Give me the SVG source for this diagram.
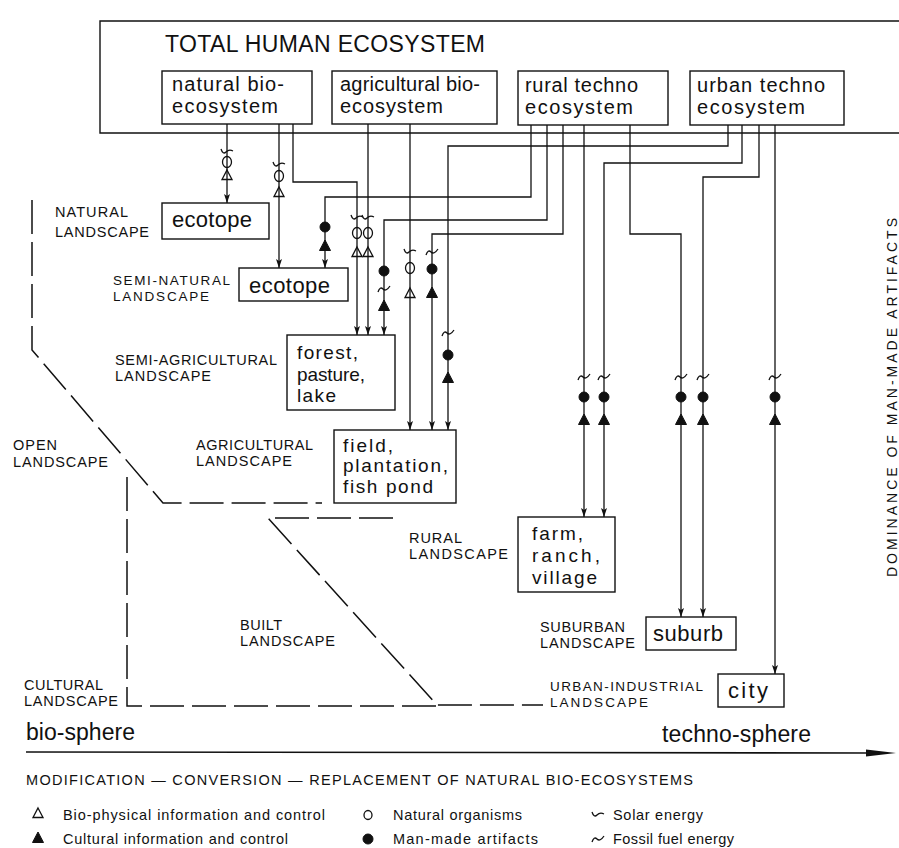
<svg xmlns="http://www.w3.org/2000/svg" width="899" height="848" viewBox="0 0 899 848">
<style>
.box{fill:none;stroke:#111;stroke-width:1.4}
.t{font-family:"Liberation Sans",Arial,sans-serif;fill:#111}
.ttl{font-size:23px}
.bx{font-size:20px}
.lb{font-size:22px}
.ml{font-size:19px}
.cap{font-size:14.5px}
.cs{font-size:13.5px}
.lg{font-size:14.5px}
.conn{fill:none;stroke:#111;stroke-width:1.3}
.dash{fill:none;stroke:#111;stroke-width:1.5;stroke-dasharray:34 8}
.so{fill:none;stroke:#111;stroke-width:1.3}
.sf{fill:#111;stroke:#111;stroke-width:1}
</style>
<defs>
<marker id="ah" markerUnits="userSpaceOnUse" markerWidth="10" markerHeight="8" refX="9" refY="3" orient="auto">
<path d="M0,0 L9,3 L0,6 L2,3 z" fill="#111"/>
</marker>
<ellipse id="oc" class="so" cx="0" cy="0" rx="4.5" ry="5.5"/>
<path id="ot" class="so" d="M0,-5 L5,4.5 L-5,4.5 z"/>
<circle id="fc" class="sf" cx="0" cy="0" r="5"/>
<path id="ft" class="sf" d="M0,-6 L5.5,4.5 L-5.5,4.5 z"/>
<path id="sw" class="so" d="M-6,-3 Q-4,3 -1,0 Q2,-3 6,-1"/>
<path id="fw" class="so" d="M-6,3 Q-4,-3 -1,0 Q2,3 6,-3"/>
</defs>

<g id="total-human-ecosystem">
<path class="box" d="M900,21 H100 V133 H900"/>
<text class="t ttl" x="165" y="52" textLength="320">TOTAL HUMAN ECOSYSTEM</text>
</g>

<g id="natural-bio-ecosystem">
<rect class="box" x="162" y="71" width="150" height="53"/>
<text class="t bx" x="172" y="91" textLength="112">natural bio-</text>
<text class="t bx" x="172" y="113" textLength="106">ecosystem</text>
</g>
<g id="agricultural-bio-ecosystem">
<rect class="box" x="332" y="71" width="165" height="53"/>
<text class="t bx" x="340" y="91" textLength="140">agricultural bio-</text>
<text class="t bx" x="340" y="113" textLength="103">ecosystem</text>
</g>
<g id="rural-techno-ecosystem">
<rect class="box" x="518" y="71" width="150" height="54"/>
<text class="t bx" x="525" y="92" textLength="113">rural techno</text>
<text class="t bx" x="525" y="114" textLength="108">ecosystem</text>
</g>
<g id="urban-techno-ecosystem">
<rect class="box" x="690" y="71" width="154" height="54"/>
<text class="t bx" x="697" y="92" textLength="128">urban techno</text>
<text class="t bx" x="697" y="114" textLength="108">ecosystem</text>
</g>

<g id="ecotope-natural">
<rect class="box" x="162" y="203" width="107" height="36"/>
<text class="t lb" x="172" y="227" textLength="80">ecotope</text>
</g>
<g id="ecotope-semi-natural">
<rect class="box" x="239" y="268" width="109" height="33"/>
<text class="t lb" x="249" y="293" textLength="81">ecotope</text>
</g>
<g id="forest-pasture-lake">
<rect class="box" x="287" y="335" width="108" height="75"/>
<text class="t ml" x="297" y="359" textLength="61">forest,</text>
<text class="t ml" x="297" y="381" textLength="68">pasture,</text>
<text class="t ml" x="297" y="402" textLength="39">lake</text>
</g>
<g id="field-plantation-fishpond">
<rect class="box" x="334" y="430" width="122" height="73"/>
<text class="t ml" x="343" y="452" textLength="50">field,</text>
<text class="t ml" x="343" y="472" textLength="105">plantation,</text>
<text class="t ml" x="343" y="493" textLength="90">fish pond</text>
</g>
<g id="farm-ranch-village">
<rect class="box" x="518" y="517" width="97" height="75"/>
<text class="t ml" x="532" y="540" textLength="51">farm,</text>
<text class="t ml" x="532" y="562" textLength="68">ranch,</text>
<text class="t ml" x="532" y="584" textLength="65">village</text>
</g>
<g id="suburb">
<rect class="box" x="646" y="617" width="90" height="33"/>
<text class="t lb" x="653" y="641" textLength="70">suburb</text>
</g>
<g id="city">
<rect class="box" x="718" y="674" width="66" height="33"/>
<text class="t lb" x="728" y="698" textLength="40">city</text>
</g>

<g id="connectors">
<path class="conn" marker-end="url(#ah)" d="M227,124 V203"/>
<path class="conn" marker-end="url(#ah)" d="M279,124 V268"/>
<path class="conn" marker-end="url(#ah)" d="M293,124 V182 H357 V335"/>
<path class="conn" marker-end="url(#ah)" d="M368,124 V335"/>
<path class="conn" marker-end="url(#ah)" d="M410,124 V430"/>
<path class="conn" marker-end="url(#ah)" d="M531,125 V197 H325 V268"/>
<path class="conn" marker-end="url(#ah)" d="M547,125 V220 H384 V335"/>
<path class="conn" marker-end="url(#ah)" d="M563,125 V234 H432 V430"/>
<path class="conn" marker-end="url(#ah)" d="M584,125 V517"/>
<path class="conn" marker-end="url(#ah)" d="M630,125 V234 H681 V617"/>
<path class="conn" marker-end="url(#ah)" d="M728,125 V146 H448 V430"/>
<path class="conn" marker-end="url(#ah)" d="M742,125 V163 H604 V517"/>
<path class="conn" marker-end="url(#ah)" d="M759,125 V177 H703 V617"/>
<path class="conn" marker-end="url(#ah)" d="M775,125 V674"/>
<use href="#sw" x="227" y="152"/><use href="#oc" x="227" y="162"/><use href="#ot" x="227" y="175"/>
<use href="#sw" x="279" y="165"/><use href="#oc" x="279" y="176"/><use href="#ot" x="279" y="192"/>
<use href="#sw" x="357" y="218"/><use href="#oc" x="357" y="233"/><use href="#ot" x="357" y="252"/>
<use href="#sw" x="368" y="218"/><use href="#oc" x="368" y="233"/><use href="#ot" x="368" y="252"/>
<use href="#sw" x="410" y="252"/><use href="#oc" x="410" y="268"/><use href="#ot" x="410" y="293"/>
<use href="#fc" x="325" y="227"/><use href="#ft" x="325" y="246"/>
<use href="#fc" x="384" y="271"/><use href="#fw" x="384" y="289"/><use href="#ft" x="384" y="306"/>
<use href="#fw" x="432" y="252"/><use href="#fc" x="432" y="269"/><use href="#ft" x="432" y="293"/>
<use href="#fw" x="448" y="333"/><use href="#fc" x="448" y="355"/><use href="#ft" x="448" y="378"/>
<use href="#fw" x="584" y="377"/><use href="#fc" x="584" y="397"/><use href="#ft" x="584" y="420"/>
<use href="#fw" x="604" y="377"/><use href="#fc" x="604" y="397"/><use href="#ft" x="604" y="420"/>
<use href="#fw" x="681" y="377"/><use href="#fc" x="681" y="397"/><use href="#ft" x="681" y="420"/>
<use href="#fw" x="703" y="377"/><use href="#fc" x="703" y="397"/><use href="#ft" x="703" y="420"/>
<use href="#fw" x="775" y="377"/><use href="#fc" x="775" y="397"/><use href="#ft" x="775" y="420"/>
</g>

<g id="boundaries">
<path class="dash" d="M32,200 V350 L163,503 H322"/>
<path class="dash" d="M393,518 H268 L437,705 H543"/>
<path class="dash" d="M127,477 V706 H437"/>
</g>

<g id="landscape-labels">
<text class="t cap" x="55" y="217" textLength="73">NATURAL</text>
<text class="t cap" x="55" y="237" textLength="94">LANDSCAPE</text>
<text class="t cs" x="113" y="285" textLength="117">SEMI-NATURAL</text>
<text class="t cs" x="113" y="301" textLength="96">LANDSCAPE</text>
<text class="t cap" x="115" y="365" textLength="162">SEMI-AGRICULTURAL</text>
<text class="t cap" x="115" y="381" textLength="96">LANDSCAPE</text>
<text class="t cap" x="13" y="450" textLength="44">OPEN</text>
<text class="t cap" x="13" y="467" textLength="95">LANDSCAPE</text>
<text class="t cap" x="196" y="450" textLength="117">AGRICULTURAL</text>
<text class="t cap" x="196" y="466" textLength="96">LANDSCAPE</text>
<text class="t cap" x="409" y="543" textLength="53">RURAL</text>
<text class="t cap" x="409" y="559" textLength="99">LANDSCAPE</text>
<text class="t cap" x="540" y="632" textLength="85">SUBURBAN</text>
<text class="t cap" x="540" y="648" textLength="95">LANDSCAPE</text>
<text class="t cs" x="550" y="691" textLength="153">URBAN-INDUSTRIAL</text>
<text class="t cs" x="550" y="707" textLength="98">LANDSCAPE</text>
<text class="t cap" x="240" y="630" textLength="42">BUILT</text>
<text class="t cap" x="240" y="646" textLength="95">LANDSCAPE</text>
<text class="t cap" x="24" y="690" textLength="79">CULTURAL</text>
<text class="t cap" x="24" y="706" textLength="94">LANDSCAPE</text>
<text class="t" font-size="14" transform="translate(897,577) rotate(-90)" x="0" y="0" textLength="359">DOMINANCE OF MAN-MADE ARTIFACTS</text>
</g>

<g id="axis">
<line x1="26" y1="752" x2="872" y2="753" stroke="#111" stroke-width="1.6"/>
<polygon points="866,749.5 896,753 866,756.5" fill="#111"/>
<text class="t" font-size="23" x="26" y="740" textLength="109">bio-sphere</text>
<text class="t" font-size="23" x="662" y="742" textLength="149">techno-sphere</text>
</g>

<g id="legend">
<text class="t lg" x="26" y="785" textLength="667">MODIFICATION — CONVERSION — REPLACEMENT OF NATURAL BIO-ECOSYSTEMS</text>
<use href="#ot" x="38" y="813"/>
<text class="t lg" x="63" y="820" textLength="262">Bio-physical information and control</text>
<use href="#ft" x="38" y="838"/>
<text class="t lg" x="63" y="844" textLength="225">Cultural information and control</text>
<ellipse class="so" cx="368" cy="815" rx="4" ry="4.5"/>
<text class="t lg" x="393" y="820" textLength="129">Natural organisms</text>
<use href="#fc" x="368" y="839"/>
<text class="t lg" x="393" y="844" textLength="145">Man-made artifacts</text>
<use href="#sw" x="598" y="815"/>
<text class="t lg" x="613" y="820" textLength="90">Solar energy</text>
<use href="#fw" x="598" y="839"/>
<text class="t lg" x="613" y="844" textLength="121">Fossil fuel energy</text>
</g>
</svg>
